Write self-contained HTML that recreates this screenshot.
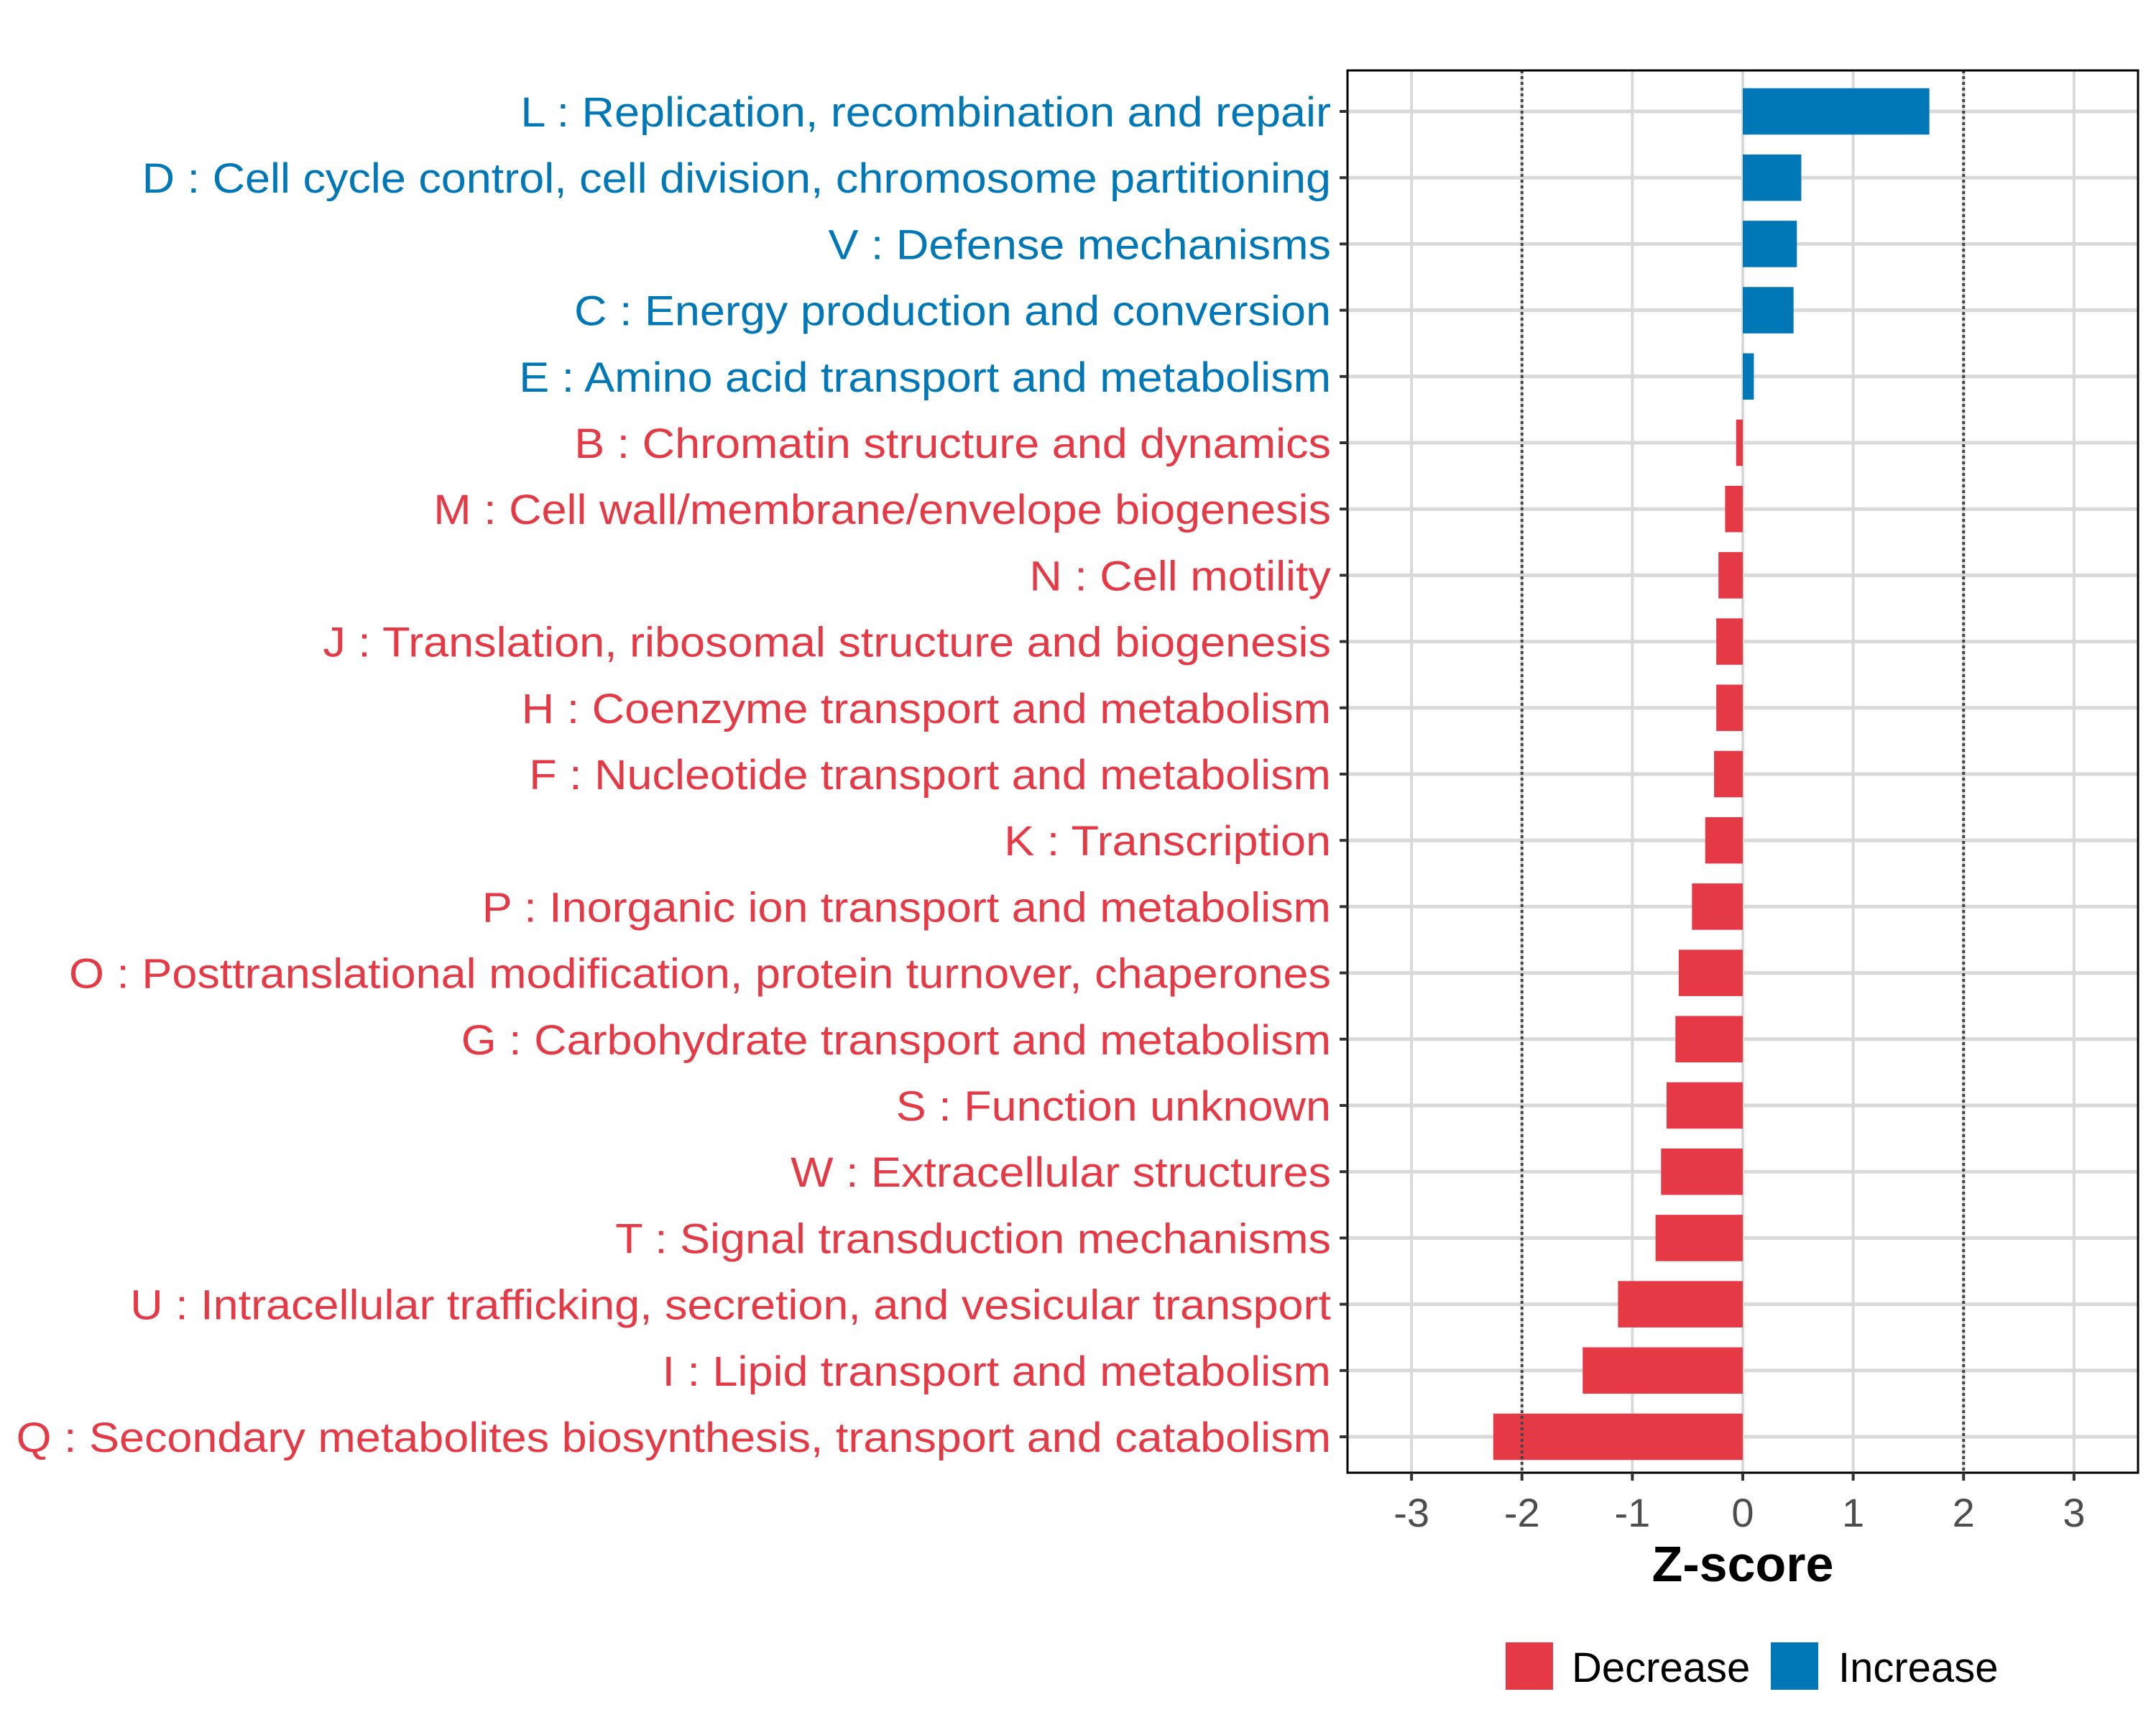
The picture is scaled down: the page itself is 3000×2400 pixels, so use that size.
<!DOCTYPE html>
<html><head><meta charset="utf-8"><style>
html,body{margin:0;padding:0;background:#fff}
svg{display:block;font-family:"Liberation Sans",Arial,sans-serif}
</style></head><body>
<svg id="chart" width="3000" height="2400" viewBox="0 0 3000 2400"></svg>
<script>
const categories=["L : Replication, recombination and repair","D : Cell cycle control, cell division, chromosome partitioning","V : Defense mechanisms","C : Energy production and conversion","E : Amino acid transport and metabolism","B : Chromatin structure and dynamics","M : Cell wall/membrane/envelope biogenesis","N : Cell motility","J : Translation, ribosomal structure and biogenesis","H : Coenzyme transport and metabolism","F : Nucleotide transport and metabolism","K : Transcription","P : Inorganic ion transport and metabolism","O : Posttranslational modification, protein turnover, chaperones","G : Carbohydrate transport and metabolism","S : Function unknown","W : Extracellular structures","T : Signal transduction mechanisms","U : Intracellular trafficking, secretion, and vesicular transport","I : Lipid transport and metabolism","Q : Secondary metabolites biosynthesis, transport and catabolism"];
const zscores=[1.69,0.53,0.49,0.46,0.10,-0.06,-0.16,-0.22,-0.24,-0.24,-0.26,-0.34,-0.46,-0.58,-0.61,-0.69,-0.74,-0.79,-1.13,-1.45,-2.26];
const xTicks=[-3,-2,-1,0,1,2,3];
const xTickLabels=["-3","-2","-1","0","1","2","3"];
const thresholds=[-2,2];
const legendLabels=["Decrease","Increase"];

const NS="http://www.w3.org/2000/svg";
const svg=document.getElementById('chart');
const L=1875,R=2975,T=98,B=2049,XMIN=-3.58,XMAX=3.58;
const RED="#E63946",BLUE="#0077B6";
function xs(v){return L+(v-XMIN)/(XMAX-XMIN)*(R-L);}
const n=categories.length;
const step=(1999-155)/(n-1);
function ys(i){return 155+step*i;}
function mk(tag,attrs,parent){const e=document.createElementNS(NS,tag);for(const k in attrs)e.setAttribute(k,attrs[k]);(parent||svg).appendChild(e);return e;}
function stretch(t,f){const w=t.getComputedTextLength();t.setAttribute('textLength',w*f);t.setAttribute('lengthAdjust','spacingAndGlyphs');}

xTicks.forEach((t,i)=>{
  const g=mk('line',{x1:xs(t),x2:xs(t),y1:T,y2:B,stroke:'#d9d9d9','stroke-width':4});
  
  
});
categories.forEach((c,i)=>{
  const g=mk('line',{x1:L,x2:R,y1:ys(i),y2:ys(i),stroke:'#d9d9d9','stroke-width':5});
  
  
});
const bh=step*0.7;
zscores.forEach((v,i)=>{
  const x0=xs(Math.min(0,v)),x1=xs(Math.max(0,v));
  const r=mk('rect',{x:x0,y:ys(i)-bh/2,width:x1-x0,height:bh,fill:v>=0?BLUE:RED});
  
  
});
thresholds.forEach(t=>{
  const l=mk('line',{x1:xs(t),x2:xs(t),y1:T,y2:B,stroke:'#444','stroke-width':4,'stroke-dasharray':'4 4'});
  
  
});
const pb=mk('rect',{x:L,y:T,width:R-L,height:B-T,fill:'none',stroke:'#000','stroke-width':3});


categories.forEach((c,i)=>{
  const tk=mk('line',{x1:L-11,x2:L,y1:ys(i),y2:ys(i),stroke:'#333','stroke-width':4});
  
  
  const t=mk('text',{x:1852,y:ys(i)+21,'text-anchor':'end','font-size':58,fill:zscores[i]>=0?BLUE:RED});
  t.textContent=c;
  
  
  stretch(t,1.085);
});
xTicks.forEach((v,i)=>{
  const tk=mk('line',{x1:xs(v),x2:xs(v),y1:B,y2:B+11,stroke:'#333','stroke-width':4});
  
  
  const t=mk('text',{x:xs(v),y:2124,'text-anchor':'middle','font-size':56,fill:'#4d4d4d'});
  t.textContent=xTickLabels[i];
  
  
});
const ttl=mk('text',{x:xs(0),y:2200,'text-anchor':'middle','font-size':70,'font-weight':'bold',fill:'#000'});
ttl.textContent='Z-score';


const lg=[{x:2095,c:RED,tx:2187},{x:2464,c:BLUE,tx:2558}];
lg.forEach((d,i)=>{
  const r=mk('rect',{x:d.x,y:2285,width:66,height:66,fill:d.c});
  
  
  const t=mk('text',{x:d.tx,y:2340,'font-size':58,fill:'#000'});
  t.textContent=legendLabels[i];
  
  
});
</script>
</body></html>
